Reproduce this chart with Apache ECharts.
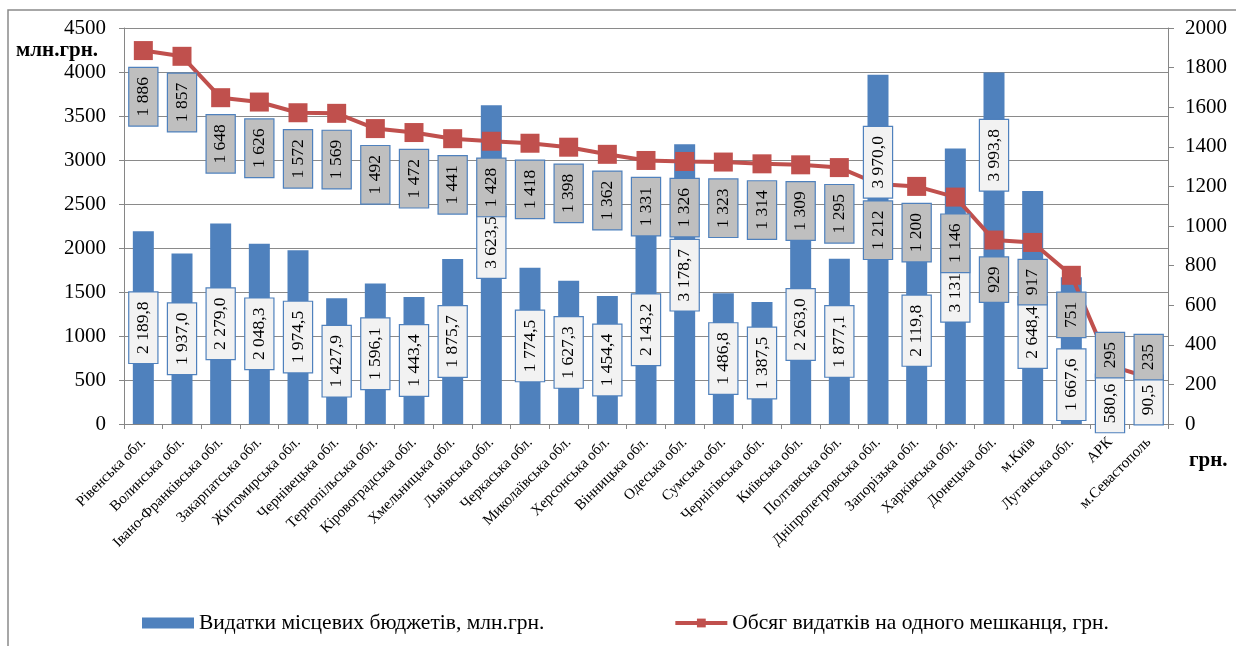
<!DOCTYPE html>
<html><head><meta charset="utf-8">
<script src="https://cdn.jsdelivr.net/npm/echarts@6/dist/echarts.min.js"></script>
<style>html,body{margin:0;padding:0;background:#fff}#c{width:1236px;height:646px}</style>
</head><body><div id="c"></div>
<script>
const categories = ['Рівенська обл.','Волинська обл.','Івано-Франківська обл.','Закарпатська обл.','Житомирська обл.','Чернівецька обл.','Тернопільська обл.','Кіровоградська обл.','Хмельницька обл.','Львівська обл.','Черкаська обл.','Миколаївська обл.','Херсонська обл.','Вінницька обл.','Одеська обл.','Сумська обл.','Чернігівська обл.','Київська обл.','Полтавська обл.','Дніпропетровська обл.','Запорізька обл.','Харківська обл.','Донецька обл.','м.Київ','Луганська обл.','АРК','м.Севастополь'];
const budgetExpenses = [2189.8,1937.0,2279.0,2048.3,1974.5,1427.9,1596.1,1443.4,1875.7,3623.5,1774.5,1627.3,1454.4,2143.2,3178.7,1486.8,1387.5,2263.0,1877.1,3970.0,2119.8,3131.2,3993.8,2648.4,1667.6,580.6,90.5];
const perCapita = [1886,1857,1648,1626,1572,1569,1492,1472,1441,1428,1418,1398,1362,1331,1326,1323,1314,1309,1295,1212,1200,1146,929,917,751,295,235];
const leftAxisMax = 4500, leftAxisStep = 500;
const rightAxisMax = 2000, rightAxisStep = 200;
const seriesNames = ['Видатки місцевих бюджетів, млн.грн.','Обсяг видатків на одного мешканця, грн.'];
const leftUnit = 'млн.грн.', rightUnit = 'грн.';

// label placement tweaks (screen px, + = down)
const barLabelShift = {9:-22, 14:-9, 19:-87, 22:-93, 23:25, 24:34, 25:5, 26:-20};
const lineLabelGap = 17.5;
const lineLabelGapExc = {25:-32.6, 26:-42.5};

const FONT = "'Liberation Serif','Times New Roman',serif";
function fmt(v, dec){
  const s = v.toFixed(dec); let parts = s.split('.');
  let i = parts[0].replace(/\B(?=(\d{3})+(?!\d))/g,' ');
  return parts[1] ? i + ',' + parts[1] : i;
}
const chart = echarts.init(document.getElementById('c'), null, {renderer:'canvas'});
const labelBase = {show:true, rotate:90, verticalAlign:'middle', fontFamily:FONT, fontSize:17.5, color:'#000',
  borderColor:'#4F81BD', borderWidth:1.2, padding:[5,9]};
const clear = 'rgba(0,0,0,0)';
chart.setOption({
  animation:false,
  backgroundColor:'#fff',
  grid:{left:124, right:68, top:28, bottom:222, containLabel:false},
  legend:{left:137, top:607, itemGap:129, itemWidth:52, itemHeight:11,
    textStyle:{fontFamily:FONT, fontSize:21.5, color:'#000'},
    data:[{name:seriesNames[0], icon:'rect'},
          {name:seriesNames[1], lineStyle:{width:4, color:'#C0504D'}, itemStyle:{color:'#C0504D'}}]},
  xAxis:{type:'category', data:categories, boundaryGap:true,
    axisLine:{lineStyle:{color:'#868686', width:1}},
    axisTick:{show:true, length:5, alignWithLabel:false, lineStyle:{color:'#868686'}},
    axisLabel:{interval:0, rotate:45, margin:16, fontFamily:FONT, fontSize:15, color:'#000'}},
  yAxis:[
    {type:'value', min:0, max:leftAxisMax, interval:leftAxisStep, position:'left',
     axisLine:{show:true, lineStyle:{color:'#868686'}},
     axisTick:{show:true, length:5, lineStyle:{color:'#868686'}},
     axisLabel:{margin:18, fontFamily:FONT, fontSize:21, color:'#000', formatter:v=>String(v)},
     splitLine:{show:true, lineStyle:{color:'#8a8a8a', width:1}}},
    {type:'value', min:0, max:rightAxisMax, interval:rightAxisStep, position:'right',
     axisLine:{show:true, lineStyle:{color:'#868686'}},
     axisTick:{show:true, length:6, lineStyle:{color:'#868686'}},
     axisLabel:{margin:17, fontFamily:FONT, fontSize:21, color:'#000', formatter:v=>String(v)},
     splitLine:{show:false}}
  ],
  graphic:[
    {type:'rect', shape:{x:8, y:10, width:1400, height:800}, style:{fill:'none', stroke:'#8a8a8a', lineWidth:1.5}, silent:true, z:-10},
    {type:'text', x:16, y:51, style:{text:leftUnit, font:"bold 21px 'Liberation Serif', serif", fill:'#000', textVerticalAlign:'middle'}},
    {type:'text', x:1189, y:461, style:{text:rightUnit, font:"bold 21px 'Liberation Serif', serif", fill:'#000', textVerticalAlign:'middle'}}
  ],
  series:[
    {type:'bar', name:seriesNames[0], yAxisIndex:0, barWidth:21, barGap:'-100%', z:2, itemStyle:{color:'#4F81BD'},
     data:budgetExpenses},
    {type:'line', name:seriesNames[1], yAxisIndex:1, symbol:'rect', symbolSize:19, z:3,
     lineStyle:{width:4, color:'#C0504D'}, itemStyle:{color:'#C0504D'},
     data:perCapita},
    // label carriers (transparent) so that data labels sit above the line and markers
    {type:'bar', yAxisIndex:0, barWidth:21, barGap:'-100%', z:4, silent:true, itemStyle:{color:clear},
     label:Object.assign({}, labelBase, {position:'inside', align:'center', backgroundColor:'#F2F2F2', formatter:p=>fmt(p.value,1)}),
     data:budgetExpenses.map((v,i)=> barLabelShift[i]!=null ? {value:v, label:{offset:[-barLabelShift[i],0]}} : v)},
    {type:'line', yAxisIndex:1, symbol:'rect', symbolSize:19, z:5, silent:true,
     lineStyle:{width:0, opacity:0}, itemStyle:{color:clear, opacity:1},
     label:Object.assign({}, labelBase, {position:'inside', align:'right', backgroundColor:'#BFBFBF', offset:[-lineLabelGap,0], formatter:p=>fmt(p.value,0)}),
     data:perCapita.map((v,i)=> lineLabelGapExc[i]!=null ? {value:v, label:{offset:[-lineLabelGapExc[i],0]}} : v)}
  ]
});
</script></body></html>
